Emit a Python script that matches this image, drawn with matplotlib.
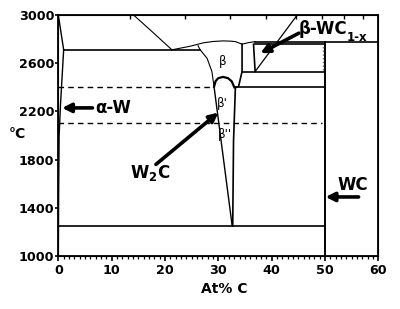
import matplotlib.pyplot as plt
import numpy as np

plt.rcParams['font.family'] = ['DejaVu Sans']
plt.rcParams['mathtext.default'] = 'bf'

# W-C phase diagram, T in degC against at% C
w_solidus_x = [0, 1.0]
w_solidus_t = [3000, 2711]
w_solvus_x = [1.0, 0.4, 0.15, 0.05, 0.0]
w_solvus_t = [2711, 2250, 2000, 1500, 1000]

liq_w_x = [14.1, 17.5, 21.3]
liq_w_t = [3000, 2865, 2711]
liq_beta_x = [21.3, 24.75, 27.2, 29.0, 30.9, 32.3, 33.2, 34.45, 35.7, 36.9]
liq_beta_t = [2711, 2741, 2769, 2780, 2785, 2783, 2779, 2758, 2771, 2779]

eutectic_x = [1.0, 26.6]
eutectic_t = [2711, 2711]

beta_left_x = [26.2, 26.6, 27.9, 28.8, 29.2]
beta_left_t = [2745, 2711, 2640, 2530, 2405]
dome_x = [29.2, 29.5, 30.0, 30.9, 31.8, 32.5, 33.0]
dome_t = [2405, 2452, 2476, 2486, 2476, 2450, 2400]
beta_right_x = [34.45, 34.45, 33.8, 33.2]
beta_right_t = [2758, 2531, 2407, 2397]

w2c_left_x = [29.2, 32.6]
w2c_left_t = [2405, 1250]
w2c_right_x = [33.2, 32.85, 32.7]
w2c_right_t = [2397, 1950, 1250]

cubic_left_x = [36.6, 36.9]
cubic_left_t = [2757, 2531]
slope_x = [36.9, 44.8]
slope_t = [2531, 3000]

# horizontal solid lines: (x start, x end, T)
solid_h = [(33.2, 50, 2400), (34.45, 50, 2531), (36.9, 60, 2779),
           (36.9, 50, 2757), (0, 50, 1250)]
# dashed lines
dashed_h = [(0, 28.9, 2400), (0, 49.5, 2100)]

wc_x = [50, 50]
wc_t = [1000, 2779]
dot_x = [49.6, 49.6]
dot_t = [2545, 2745]

# weight % C markers on the top axis
wt_ticks = [1, 2, 3, 4, 5, 6, 7, 8]
at_ticks = [(w / 12.011) / (w / 12.011 + (100 - w) / 183.84) * 100 for w in wt_ticks]

fig = plt.figure(figsize=(4, 3.09), dpi=100)
ax = fig.add_axes([0.1458, 0.1715, 0.800, 0.780])
ax.set_xlim(0, 60)
ax.set_ylim(1000, 3000)

lw = 1.0
ax.plot(w_solidus_x, w_solidus_t, 'k-', lw=lw)
ax.plot(w_solvus_x, w_solvus_t, 'k-', lw=lw)
ax.plot(liq_w_x, liq_w_t, 'k-', lw=0.8)
ax.plot(liq_beta_x, liq_beta_t, 'k-', lw=0.8)
ax.plot(eutectic_x, eutectic_t, 'k-', lw=1.2)
ax.plot(beta_left_x, beta_left_t, 'k-', lw=0.8)
ax.plot(dome_x, dome_t, 'k-', lw=1.6)
ax.plot(beta_right_x, beta_right_t, 'k-', lw=1.2)
ax.plot(w2c_left_x, w2c_left_t, 'k-', lw=1.0)
ax.plot(w2c_right_x, w2c_right_t, 'k-', lw=1.2)
ax.plot(cubic_left_x, cubic_left_t, 'k-', lw=1.2)
ax.plot(slope_x, slope_t, 'k-', lw=0.9)
for x0, x1, t in solid_h:
    ax.plot([x0, x1], [t, t], 'k-', lw=1.2)
for x0, x1, t in dashed_h:
    ax.plot([x0, x1], [t, t], 'k--', lw=1.0, dashes=(4, 3))
ax.plot(wc_x, wc_t, 'k-', lw=1.4)
ax.plot(dot_x, dot_t, color='0.4', ls=':', lw=1.0)

# axes styling
for s in ax.spines.values():
    s.set_linewidth(1.3)
ax.set_xticks(np.arange(0, 61, 10))
ax.set_xticks(np.arange(0, 61, 1), minor=True)
ax.set_yticks(np.arange(1000, 3001, 400))
ax.tick_params(axis='x', which='major', length=3.5, width=1.2, pad=2,
               labelsize=9.2)
ax.tick_params(axis='x', which='minor', length=2, width=0.9)
ax.tick_params(axis='y', which='major', length=2.5, width=1.2, pad=0.5,
               labelsize=9.2)
for lab in ax.get_xticklabels() + ax.get_yticklabels():
    lab.set_fontweight('bold')

top = ax.twiny()
top.set_xlim(0, 60)
top.set_xticks(at_ticks)
top.set_xticklabels([])
top.tick_params(axis='x', direction='in', length=3, width=1.0)

ax.set_xlabel('At% C', fontsize=10, fontweight='bold')
ax.xaxis.set_label_coords(0.5175, -0.135)
ax.xaxis.label.set_va('center')
ax.set_ylabel('°C', fontsize=10, fontweight='bold', rotation=0)
ax.yaxis.set_label_coords(-0.1275, 0.506)
ax.yaxis.label.set_va('center')
ax.yaxis.label.set_ha('center')

# phase labels
ax.text(30.8, 2612, 'β', fontsize=8.5, ha='center', va='center')
ax.text(30.75, 2269, "β'", fontsize=8.5, ha='center', va='center')
ax.text(31.2, 2008, "β''", fontsize=8.5, ha='center', va='center')

arrow = dict(arrowstyle='-|>', lw=2.6, color='k', mutation_scale=13,
             shrinkA=0, shrinkB=0)
ax.annotate('', xy=(0.7, 2229), xytext=(6.4, 2229), arrowprops=arrow)
ax.text(7.0, 2229, 'α-W', fontsize=12, fontweight='bold', ha='left',
        va='center')

ax.annotate('', xy=(30.0, 2190), xytext=(18.3, 1760), arrowprops=arrow)
ax.text(17.3, 1686, 'W$_2$C', fontsize=12, fontweight='bold', ha='center',
        va='center')

ax.annotate('', xy=(50.1, 1490), xytext=(56.3, 1490), arrowprops=arrow)
ax.text(55.2, 1590, 'WC', fontsize=12, fontweight='bold', ha='center',
        va='center')

ax.annotate('', xy=(37.9, 2683), xytext=(45.1, 2849), arrowprops=arrow)
ax.text(45.0, 2880, 'β-WC', fontsize=12, fontweight='bold',
        ha='left', va='center')
ax.annotate('1-x', xy=(45.0, 2880), xytext=(34.5, -5.5),
            textcoords='offset points', fontsize=8.5, fontweight='bold',
            ha='left', va='center')

fig.savefig('out.png', dpi=100)
